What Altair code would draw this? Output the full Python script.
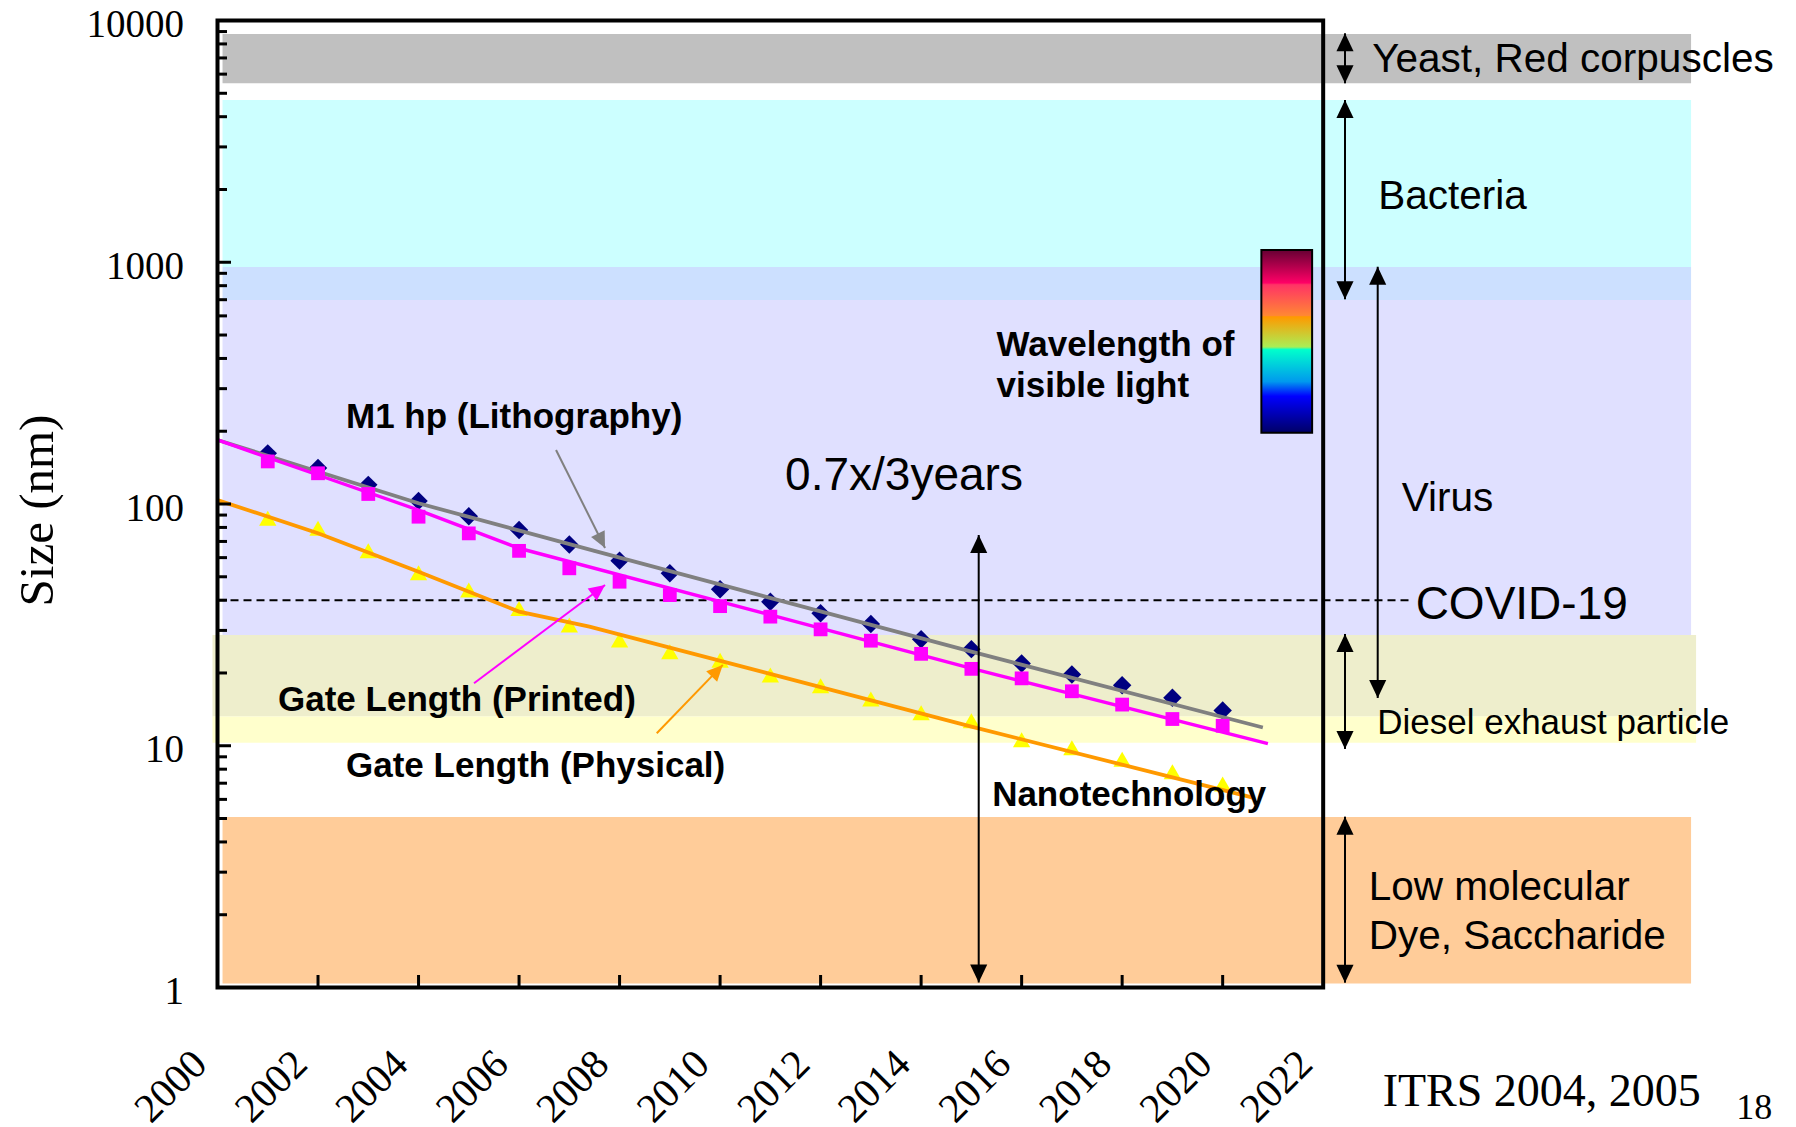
import altair as alt
import pandas as pd

# ---------------- data ----------------
years = list(range(2001, 2021))
m1_hp = [162, 141, 120, 103, 89, 78, 68, 58.3, 51.7, 44.4, 39.4, 35.3, 31.9, 27.6, 25.1, 21.9, 19.7, 17.8, 15.8, 14.0]
gate_printed = [150, 134, 110, 88.6, 75.6, 64, 54.2, 47.7, 42, 37.8, 34.2, 30.3, 27.2, 24, 20.8, 19.0, 16.8, 14.8, 12.9, 12.1]
gate_physical = [87.3, 79.3, 64.1, 52, 44.1, 37, 31.6, 27.4, 24.5, 22.6, 19.6, 17.7, 15.6, 13.7, 12.7, 10.6, 9.8, 8.8, 7.8, 6.95]

m1_trend_x = [2000, 2004, 2007.5, 2015, 2020.8]
m1_trend_y = [184, 100.7, 64, 24.5, 11.9]
printed_trend_x = [2000, 2002, 2004, 2006, 2011, 2015, 2020.9]
printed_trend_y = [184, 131.8, 94.4, 65.6, 34.8, 20.9, 10.2]
physical_trend_x = [2000, 2002, 2004, 2006, 2007.4, 2015, 2020.6]
physical_trend_y = [103.8, 75.7, 52.5, 35.9, 31.1, 12.0, 6.1]

band_names = ["yeast", "bacteria", "bacteria_virus", "virus", "virus_diesel", "diesel", "molecule"]
band_lo = [5500, 955, 698, 28.7, 13.2, 10.3, 1.04]
band_hi = [8800, 4690, 955, 698, 28.7, 13.2, 5.07]
band_x0 = [2000.1, 2000.1, 2000.1, 2000.1, 1999.9, 1999.9, 2000.1]
band_x1 = [2029.32, 2029.32, 2029.32, 2029.32, 2029.42, 2029.42, 2029.32]
band_colors = ["#C0C0C0", "#CCFFFF", "#CCE0FF", "#E0E0FF", "#EEEECC", "#FFFFCC", "#FFCC99"]

covid_nm = 40
covid_x = [2000, 2023.73]

spectrum_x = [2020.77, 2021.78]
spectrum_nm = [197, 1124]

x_tick_years = list(range(2000, 2023, 2))
y_major = [1, 10, 100, 1000, 10000]
y_minor = [k * 10 ** n for n in range(4) for k in range(2, 10)]

# vertical double arrows (x year, top tip, bottom tip)
arrow_x = [2022.434, 2022.434, 2023.085, 2022.434, 2022.434, 2015.146]
arrow_top = [8852, 4690, 958, 29.0, 5.09, 74.4]
arrow_bottom = [5497, 702.7, 15.76, 9.70, 1.047, 1.05]

# label pointer arrows
ptr_name = ["m1", "printed", "physical"]
ptr_x1 = [2006.736, 2005.104, 2008.740]
ptr_y1 = [167.3, 18.13, 11.26]
ptr_x2 = [2007.711, 2007.711, 2010.054]
ptr_y2 = [65.8, 46.2, 21.6]

# annotations
bold_text = ["M1 hp (Lithography)", "Gate Length (Printed)", "Gate Length (Physical)",
             "Nanotechnology", "Wavelength of", "visible light"]
bold_x = [2002.557, 2001.204, 2002.557, 2015.413, 2015.502, 2015.502]
bold_y = [229, 15.46, 8.24, 6.25, 455, 309]

side_text = ["Yeast, Red corpuscles", "Bacteria", "Virus", "Low molecular", "Dye, Saccharide"]
side_x = [2022.975, 2023.094, 2023.564, 2022.905, 2022.905]
side_y = [6850, 1860, 105, 2.57, 1.62]

big_text = ["0.7x/3years", "COVID-19"]
big_x = [2011.294, 2023.84]
big_y = [131, 38.2]

diesel_text = ["Diesel exhaust particle"]
diesel_x = [2023.075]
diesel_y = [12.4]

source_text = ["ITRS 2004, 2005", "18"]
source_x = [2023.184, 2030.22]
source_y = [0.37, 0.318]
source_size = [46, 36]

# ---------------- layout ----------------
W, H = 1558, 967
PAD = {"left": 217.5, "top": 20.5, "right": 20.5, "bottom": 139.5}
PX_PER_YEAR = W / 31.0
PX_PER_DECADE = H / 4.0

SANS = "Liberation Sans"
SERIF = "Liberation Serif"

XS = alt.Scale(domain=[2000, 2031], nice=False, zero=False)
YS = alt.Scale(type="log", domain=[1, 10000], nice=False)

X_AXIS = alt.Axis(
    values=x_tick_years, format="d", labelFont=SERIF, labelFontSize=41, labelColor="black",
    labelAngle=315, labelAlign="right", labelBaseline="middle", labelPadding=70, labelOffset=-17.5,
    ticks=False, tickSize=0, domain=False, grid=False, title=None, labelFlush=False, labelOverlap=False,
)
Y_AXIS = alt.Axis(
    values=y_major, format="d", labelFont=SERIF, labelFontSize=39, labelColor="black", labelPadding=34,
    labelOffset=4, ticks=False, tickSize=0, domain=False, grid=False, labelFlush=False, labelOverlap=False,
    title="Size (nm)", titleFont=SERIF, titleFontSize=49, titleFontWeight="normal", titleColor="black",
    titleAngle=270, titleX=-179.7, titleY=489.5, titleAlign="center", titleBaseline="middle",
)


def xq(f):
    return alt.X(f, type="quantitative", scale=XS, axis=X_AXIS)


def yq(f):
    return alt.Y(f, type="quantitative", scale=YS, axis=Y_AXIS)


# bands
bands_df = pd.DataFrame({"name": band_names, "lo": band_lo, "hi": band_hi, "x0": band_x0, "x1": band_x1})
bands = alt.Chart(bands_df).mark_rect(strokeWidth=0).encode(
    x=xq("x0"), x2="x1", y=yq("lo"), y2="hi",
    color=alt.Color("name:N", scale=alt.Scale(domain=band_names, range=band_colors), legend=None),
)

# spectrum bar
grad = alt.LinearGradient(
    gradient="linear", x1=0, x2=0, y1=0, y2=1,
    stops=[
        alt.GradientStop(offset=0.0, color="#660033"),
        alt.GradientStop(offset=0.18, color="#FF0066"),
        alt.GradientStop(offset=0.19, color="#FF3366"),
        alt.GradientStop(offset=0.36, color="#FF8833"),
        alt.GradientStop(offset=0.365, color="#FF9900"),
        alt.GradientStop(offset=0.53, color="#AAEE55"),
        alt.GradientStop(offset=0.545, color="#00FFCC"),
        alt.GradientStop(offset=0.72, color="#0099EE"),
        alt.GradientStop(offset=0.80, color="#0000FF"),
        alt.GradientStop(offset=1.0, color="#000066"),
    ],
)
spec_df = pd.DataFrame({"x0": [spectrum_x[0]], "x1": [spectrum_x[1]], "lo": [spectrum_nm[0]], "hi": [spectrum_nm[1]]})
spectrum = alt.Chart(spec_df).mark_rect(fill=grad, stroke="black", strokeWidth=2).encode(
    x=xq("x0"), x2="x1", y=yq("lo"), y2="hi"
)

# covid dashed line
covid_df = pd.DataFrame({"x0": [covid_x[0]], "x1": [covid_x[1]], "v": [covid_nm]})
covid = alt.Chart(covid_df).mark_rule(color="black", strokeWidth=2, strokeDash=[8, 5]).encode(
    x=xq("x0"), x2="x1", y=yq("v")
)

pts_df = pd.DataFrame({"year": years, "m1": m1_hp, "printed": gate_printed, "physical": gate_physical})
diamonds = alt.Chart(pts_df).mark_point(shape="diamond", filled=True, size=340, color="#000080", opacity=1).encode(
    x=xq("year"), y=yq("m1"))
squares = alt.Chart(pts_df).mark_point(shape="square", filled=True, size=190, color="#FF00FF", opacity=1).encode(
    x=xq("year"), y=yq("printed"))
triangles = alt.Chart(pts_df).mark_point(shape="triangle-up", filled=True, size=300, color="#FFFF00", opacity=1).encode(
    x=xq("year"), y=yq("physical"))

gray_line = alt.Chart(pd.DataFrame({"x": m1_trend_x, "y": m1_trend_y})).mark_line(
    color="#808080", strokeWidth=3.8).encode(x=xq("x"), y=yq("y"), order="x:Q")
mag_line = alt.Chart(pd.DataFrame({"x": printed_trend_x, "y": printed_trend_y})).mark_line(
    color="#FF00FF", strokeWidth=3.4).encode(x=xq("x"), y=yq("y"), order="x:Q")
org_line = alt.Chart(pd.DataFrame({"x": physical_trend_x, "y": physical_trend_y})).mark_line(
    color="#FF9900", strokeWidth=3.8).encode(x=xq("x"), y=yq("y"), order="x:Q")

# frame
frame_df = pd.DataFrame({"x0": [2000], "x1": [2022], "lo": [1], "hi": [10000]})
frame = alt.Chart(frame_df).mark_rect(fill="white", fillOpacity=0, stroke="black", strokeWidth=4).encode(
    x=xq("x0"), x2="x1", y=yq("lo"), y2="hi",
)

# inward ticks
ytick_df = pd.DataFrame({
    "v": y_major + y_minor,
    "x0": [2000] * (len(y_major) + len(y_minor)),
    "x1": [2000 + 13.5 / PX_PER_YEAR] * len(y_major) + [2000 + 9.5 / PX_PER_YEAR] * len(y_minor),
})
yticks = alt.Chart(ytick_df).mark_rule(color="black", strokeWidth=3).encode(x=xq("x0"), x2="x1", y=yq("v"))
xtick_df = pd.DataFrame({"x": x_tick_years[1:-1]})
xtick_df["lo"] = 1
xtick_df["hi"] = 10 ** (12.5 / PX_PER_DECADE)
xticks = alt.Chart(xtick_df).mark_rule(color="black", strokeWidth=3).encode(x=xq("x"), y=yq("lo"), y2="hi")

# vertical double arrows
arr_df = pd.DataFrame({"x": arrow_x, "top": arrow_top, "bottom": arrow_bottom})
shafts = alt.Chart(arr_df).mark_rule(color="black", strokeWidth=2).encode(x=xq("x"), y=yq("top"), y2="bottom")
UP = "M0,0L-0.95,2L0.95,2Z"
DOWN = "M0,0L-0.95,-2L0.95,-2Z"
heads_up = alt.Chart(arr_df).mark_point(shape=UP, filled=True, size=324, color="black", opacity=1).encode(
    x=xq("x"), y=yq("top"))
heads_down = alt.Chart(arr_df).mark_point(shape=DOWN, filled=True, size=324, color="black", opacity=1).encode(
    x=xq("x"), y=yq("bottom"))

# pointer arrows
ptr_colors = {"m1": "#808080", "printed": "#FF00FF", "physical": "#FF9900"}
ptr_angles = {"m1": 333.4, "printed": 233.2, "physical": 224.0}
ptr_df = pd.DataFrame({"name": ptr_name, "x1": ptr_x1, "y1": ptr_y1, "x2": ptr_x2, "y2": ptr_y2})
ptr_df["c"] = ptr_df["name"].map(ptr_colors)
ptr_df["a"] = ptr_df["name"].map(ptr_angles)
ptr_lines = alt.Chart(ptr_df).mark_rule(strokeWidth=2).encode(
    x=xq("x1"), y=yq("y1"), x2="x2", y2="y2", color=alt.Color("c:N", scale=None))
ptr_heads = alt.Chart(ptr_df).mark_point(shape=DOWN, filled=True, size=256, opacity=1).encode(
    x=xq("x2"), y=yq("y2"), color=alt.Color("c:N", scale=None), angle=alt.Angle("a:Q", scale=None))


def text_layer(labels, xs, ys, **style):
    df = pd.DataFrame({"t": labels, "x": xs, "y": ys})
    return alt.Chart(df).mark_text(align="left", baseline="middle", color="black", **style).encode(
        x=xq("x"), y=yq("y"), text="t:N")


t_bold = text_layer(bold_text, bold_x, bold_y, font=SANS, fontSize=35, fontWeight="bold")
t_side = text_layer(side_text, side_x, side_y, font=SANS, fontSize=40.5)
t_big = text_layer(big_text, big_x, big_y, font=SANS, fontSize=46)
t_diesel = text_layer(diesel_text, diesel_x, diesel_y, font=SANS, fontSize=35)
src_df = pd.DataFrame({"t": source_text, "x": source_x, "y": source_y, "s": source_size})
t_src = alt.Chart(src_df).mark_text(align="left", baseline="middle", color="black", font=SERIF).encode(
    x=xq("x"), y=yq("y"), text="t:N", size=alt.Size("s:Q", scale=None))

chart = alt.layer(
    bands, spectrum, covid, diamonds, gray_line, triangles, org_line, mag_line, squares,
    frame, yticks, xticks, shafts, heads_up, heads_down, ptr_lines, ptr_heads,
    t_bold, t_side, t_big, t_diesel, t_src,
).properties(
    width=W, height=H, padding=PAD, autosize=alt.AutoSizeParams(type="none"), background="white"
).configure_view(stroke=None)

chart.save("out.html", embed_options={"renderer": "svg", "actions": False})
